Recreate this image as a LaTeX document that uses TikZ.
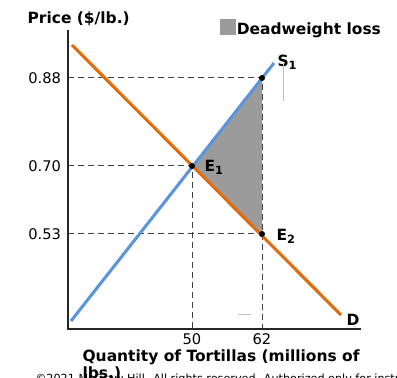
\documentclass[tikz,border=0pt]{standalone}
\usepackage{fontspec}
\setmainfont{DejaVu Sans}
\usetikzlibrary{positioning}
\definecolor{demand}{HTML}{E36C0A}
\definecolor{supply}{HTML}{5B95DC}
\definecolor{dwl}{HTML}{9B9B9B}
\newcommand{\lowidx}[1]{\raisebox{-0.35ex}{\fontsize{8.5}{9}\selectfont #1}}
\tikzset{
  axis/.style={line width=1pt, black!85},
  curve/.style={line width=2.3pt},
  guide/.style={dash pattern=on 4.5pt off 3pt, line width=0.75pt, black!75},
  ticklbl/.style={font=\fontsize{11}{13}\selectfont, inner sep=2pt},
  lbl/.style={font=\bfseries\fontsize{11.6}{13}\selectfont, inner sep=1pt},
  dot/.style={circle, fill=black, inner sep=0pt, minimum size=4.5pt},
  faint/.style={black!25, line width=0.6pt},
}

\begin{document}
\begin{tikzpicture}[x=0.75pt, y=-0.75pt]
        \useasboundingbox (0,0) rectangle (397,378);
        % axes
        \coordinate (o) at (68,329);
        \coordinate (ytop) at (68,30);
        \coordinate (xend) at (361,329);
        % curve ends
        \coordinate (dA) at (72,45);  \coordinate (dB) at (341,315);
        \coordinate (sA) at (71,321); \coordinate (sB) at (274,63);
        \coordinate (e1) at (192,166);
        \coordinate (e2) at (262,234);
        \coordinate (top) at (262,78);
        % deadweight loss
        \fill[dwl] (e1) -- (top) -- (e2) -- cycle;
        % guides
        \draw[guide] (o |- top) -- (top) -- (top |- o);
        \draw[guide] (o |- e1) -- (e1) -- (e1 |- o);
        \draw[guide] (o |- e2) -- (e2);
        \draw[curve, demand] (dA) -- (dB);
        \draw[curve, supply] (sA) -- (sB);
        \draw[axis] (ytop) -- (o) -- (xend);
        \node[dot] at (e1) {};
        \node[dot] at (e2) {};
        \node[dot] at (top) {};
        % tick labels
        \node[ticklbl, left=3pt of o |- top] (p88) {0.88};
        \node[ticklbl, left=3pt of o |- e1] (p70) {0.70};
        \node[ticklbl, left=3pt of o |- e2] (p53) {0.53};
        \node[ticklbl, below=1pt of e1 |- o] (q50) {50};
        \node[ticklbl, below=1pt of top |- o] (q62) {62};
        % labels
        \node[lbl, anchor=north west] (le1) at (203,159) {E\lowidx{1}};
        \node[lbl, anchor=north west] (le2) at (275,228) {E\lowidx{2}};
        \node[lbl, anchor=south west] (ls) at (276,71) {S\lowidx{1}};
        \node[lbl, anchor=west] (ld) at (345,320) {D};
        \node[lbl, anchor=west] (ptitle) at (26,19) {Price (\$/lb.)};
        \node[lbl, anchor=north west, align=left, font=\bfseries\fontsize{11.6}{12.6}\selectfont] (qtitle) at (81,348) {Quantity of Tortillas (millions of\\lbs.)};
        % legend
        \node[fill=dwl, minimum size=12pt, inner sep=0pt, anchor=north west] (key) at (220,19) {};
        \node[lbl, right=-1pt of key, yshift=-2pt] (keytxt) {Deadweight loss};
        % stray marks
        \draw[faint] (283,63) -- (283,101);
        \draw[faint] (238,314) -- (251,314);
        \node[anchor=base west, inner sep=0pt, font=\fontsize{8.4}{10}\selectfont] (copy) at (35,382) {©2021 McGraw Hill. All rights reserved. Authorized only for instructor use in the classroom.};
\end{tikzpicture}
\end{document}
